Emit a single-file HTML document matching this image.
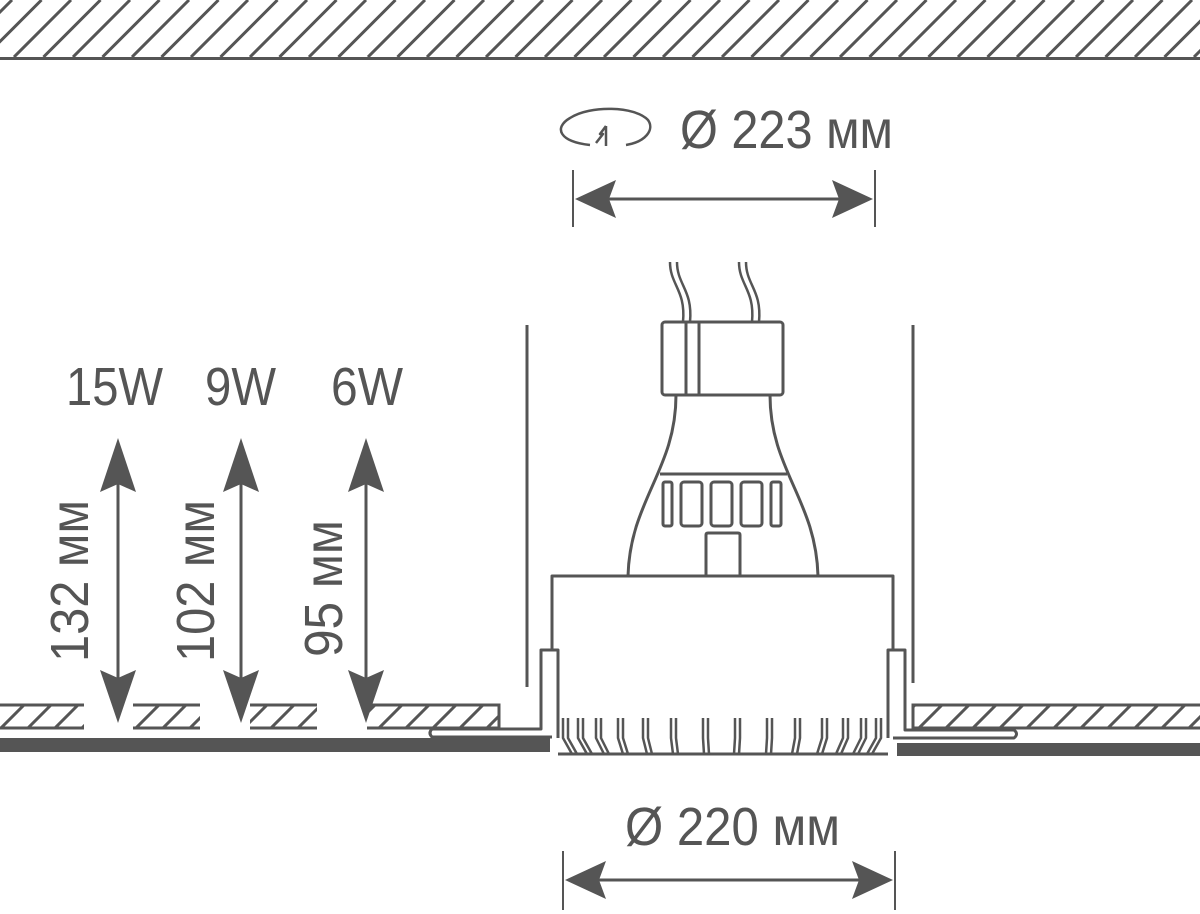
<!DOCTYPE html>
<html><head><meta charset="utf-8"><style>html,body{margin:0;padding:0;background:#fff}svg{display:block}</style></head>
<body>
<svg width="1200" height="914" viewBox="0 0 1200 914" xmlns="http://www.w3.org/2000/svg" font-family="'Liberation Sans', sans-serif" fill="#555">
<defs>
<pattern id="h1" patternUnits="userSpaceOnUse" width="29.5" height="58" x="14">
<line x1="0" y1="57" x2="57" y2="0" stroke="#555" stroke-width="3"/>
<line x1="-29.5" y1="57" x2="27.5" y2="0" stroke="#555" stroke-width="3"/>
<line x1="29.5" y1="57" x2="86.5" y2="0" stroke="#555" stroke-width="3"/>
</pattern>
<pattern id="h2" patternUnits="userSpaceOnUse" width="27" height="24" y="705">
<line x1="0" y1="24" x2="24" y2="0" stroke="#555" stroke-width="3"/>
<line x1="27" y1="24" x2="51" y2="0" stroke="#555" stroke-width="3"/>
<line x1="-27" y1="24" x2="-3" y2="0" stroke="#555" stroke-width="3"/>
</pattern>
</defs>
<!-- ceiling -->
<rect x="0" y="0" width="1200" height="57" fill="url(#h1)"/>
<rect x="0" y="57" width="1200" height="3" fill="#555"/>

<!-- bottom strips -->
<g stroke="#555" stroke-width="3">
<rect x="0" y="705" width="84" height="24" fill="url(#h2)" stroke="none"/>
<line x1="0" y1="705" x2="84" y2="705"/><line x1="0" y1="728" x2="84" y2="728"/>
<rect x="133" y="705" width="67" height="24" fill="url(#h2)" stroke="none"/>
<line x1="133" y1="705" x2="200" y2="705"/><line x1="133" y1="728" x2="200" y2="728"/>
<rect x="250" y="705" width="67" height="24" fill="url(#h2)" stroke="none"/>
<line x1="250" y1="705" x2="317" y2="705"/><line x1="250" y1="728" x2="317" y2="728"/>
<rect x="367" y="705" width="132" height="24" fill="url(#h2)" stroke="none"/>
<polyline points="367,705 499,705 499,728 367,728" fill="none"/>
<rect x="913" y="705" width="287" height="24" fill="url(#h2)" stroke="none"/>
<polyline points="1200,705 913,705 913,728 1200,728" fill="none"/>
</g>
<rect x="0" y="738" width="550" height="14" fill="#555"/>
<rect x="897" y="743" width="303" height="13" fill="#555"/>

<g fill="none" stroke="#555" stroke-width="3" stroke-linejoin="round">
<!-- frame lines -->
<line x1="527" y1="325" x2="527" y2="687"/>
<line x1="913" y1="325" x2="913" y2="683"/>
<!-- box -->
<polyline points="552,650 552,576 893,576 893,650"/>
<!-- left flange -->
<path d="M558,738 L558,650 L541,650 L541,729 L432,729 Q428,733 432,737 L552,737"/>
<!-- right flange -->
<path d="M888,738 L888,650 L905,650 L905,730 L1014,730 Q1019,734 1014,738 L893,738"/>
<!-- bottom line -->
<line x1="558" y1="754" x2="888" y2="754"/>
<!-- fins -->
<g stroke-width="2.5">
<path d="M563,718 v20 l9,16 M568,718 v20 l9,16"/>
<path d="M578,718 v20 l9,16 M583,718 v20 l9,16"/>
<path d="M596,718 v20 l8,16 M601,718 v20 l8,16"/>
<path d="M618,718 v20 l5,16 M623,718 v20 l5,16"/>
<path d="M643,718 v20 l4,16 M648,718 v20 l4,16"/>
<path d="M671,718 v20 l2,16 M676,718 v20 l2,16"/>
<path d="M703,718 v20 l1,16 M708,718 v20 l1,16"/>
<path d="M735,718 v20 l-1,16 M740,718 v20 l-1,16"/>
<path d="M767,718 v20 l-1,16 M772,718 v20 l-1,16"/>
<path d="M795,718 v20 l-3,16 M800,718 v20 l-3,16"/>
<path d="M822,718 v20 l-5,16 M827,718 v20 l-5,16"/>
<path d="M843,718 v20 l-7,16 M848,718 v20 l-7,16"/>
<path d="M861,718 v20 l-8,16 M866,718 v20 l-8,16"/>
<path d="M876,718 v20 l-9,16 M881,718 v20 l-9,16"/>
</g>
<!-- bulb -->
<rect x="662" y="322" width="121" height="73" rx="3"/>
<line x1="686" y1="322" x2="686" y2="395"/>
<line x1="699" y1="322" x2="699" y2="395"/>
<path d="M676,395 C676,470 630,500 628,576"/>
<path d="M770,395 C770,470 816,500 818,576"/>
<line x1="660" y1="474" x2="787" y2="474"/>
<rect x="663" y="482" width="9" height="44" rx="2"/>
<rect x="681" y="482" width="21" height="44" rx="3"/>
<rect x="711" y="482" width="21" height="44" rx="3"/>
<rect x="741" y="482" width="21" height="44" rx="3"/>
<rect x="771" y="482" width="10" height="44" rx="2"/>
<path d="M706,576 V535 Q706,533 708,533 H738 Q740,533 740,535 V576"/>
<!-- wires -->
<g stroke-width="2.5">
<path d="M670,262 C670,285 686,290 683,322"/>
<path d="M677,262 C677,285 693,290 690,322"/>
<path d="M739,262 C739,285 755,290 752,322"/>
<path d="M746,262 C746,285 762,290 759,322"/>
</g>
<!-- rotation icon -->
<path d="M590,145 C560,142 553,128 570,118 C590,105 635,106 648,120 C655,130 645,142 626,145" stroke-width="2.5"/>
<path d="M606,126 L600,134 L603,134 L596,143 M606,126 L606,146" stroke-width="2.5"/>
<!-- dimension lines -->
<line x1="573" y1="170" x2="573" y2="227" stroke-width="2"/>
<line x1="875" y1="170" x2="875" y2="227" stroke-width="2"/>
<line x1="600" y1="199" x2="850" y2="199"/>
<line x1="563" y1="851" x2="563" y2="910" stroke-width="2"/>
<line x1="895" y1="851" x2="895" y2="910" stroke-width="2"/>
<line x1="590" y1="880" x2="870" y2="880"/>
<line x1="118" y1="470" x2="118" y2="690"/>
<line x1="241" y1="470" x2="241" y2="690"/>
<line x1="366" y1="470" x2="366" y2="690"/>
</g>
<!-- arrowheads -->
<path d="M575,199 L616,180 L609,199 L616,218 Z"/>
<path d="M873,199 L832,180 L839,199 L832,218 Z"/>
<path d="M565,880 L606,861 L599,880 L606,899 Z"/>
<path d="M893,880 L852,861 L859,880 L852,899 Z"/>
<g>
<path d="M118,438 L100,492 L118,484 L136,492 Z"/>
<path d="M118,723 L100,670 L118,678 L136,670 Z"/>
<path d="M241,438 L223,492 L241,484 L259,492 Z"/>
<path d="M241,723 L223,670 L241,678 L259,670 Z"/>
<path d="M366,438 L348,492 L366,484 L384,492 Z"/>
<path d="M366,723 L348,670 L366,678 L384,670 Z"/>
</g>
<!-- text -->
<g font-size="54">
<text x="680" y="148" textLength="213" lengthAdjust="spacingAndGlyphs">Ø 223 мм</text>
<text x="625" y="845" textLength="215" lengthAdjust="spacingAndGlyphs">Ø 220 мм</text>
<text x="66" y="405" textLength="97" lengthAdjust="spacingAndGlyphs">15W</text>
<text x="205" y="405" textLength="71" lengthAdjust="spacingAndGlyphs">9W</text>
<text x="331" y="405" textLength="72" lengthAdjust="spacingAndGlyphs">6W</text>
<text transform="translate(88,662) rotate(-90)" textLength="162" lengthAdjust="spacingAndGlyphs">132 мм</text>
<text transform="translate(214,662) rotate(-90)" textLength="162" lengthAdjust="spacingAndGlyphs">102 мм</text>
<text transform="translate(342,657) rotate(-90)" textLength="137" lengthAdjust="spacingAndGlyphs">95 мм</text>
</g>
</svg>
</body></html>
